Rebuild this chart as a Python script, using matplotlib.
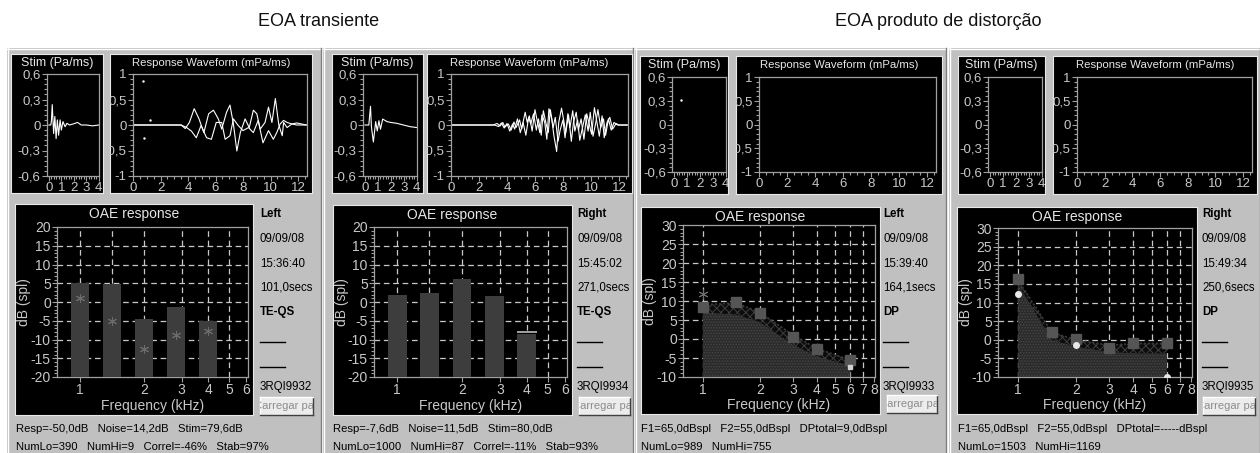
# -*- coding: utf-8 -*-
# Painel de EOA: transiente (TE) e produto de distorção (DP), orelha esquerda/direita
import matplotlib; matplotlib.use("Agg")
import matplotlib.pyplot as plt
import numpy as np
from matplotlib.patches import Rectangle
from matplotlib.ticker import MultipleLocator, FixedLocator, NullLocator

W, H = 1260, 453
plt.rcParams.update({"font.family": ["Liberation Sans", "DejaVu Sans"],
                     "hatch.linewidth": 0.7})
CINZA = "#c0c0c0"; TXT = "#c8c8c8"; GRADE = "#c8c8c8"; MOLD = "#a0a0a0"

# ---------------- dados ----------------
titulos = ["EOA transiente", "EOA produto de distorção"]

# estímulo (ms, Pa)
stim1_t = [0.0, 0.15, 0.2, 0.27, 0.38, 0.48, 0.58, 0.68, 0.78, 0.9, 1.0, 1.13, 1.3, 1.45, 1.65, 1.9, 2.3, 2.6, 3.0, 3.5, 4.0]
stim1_v = [0.0, 0.0, 0.04, 0.24, -0.1, 0.1, -0.16, 0.06, -0.12, 0.06, -0.06, 0.04, -0.02, 0.02, 0.0, 0.01, 0.03, 0.0, 0.0, -0.01, 0.0]
stim2_t = [0.0, 0.3, 0.43, 0.5, 0.65, 0.83, 0.95, 1.08, 1.2, 1.37, 1.7, 2.0, 2.45, 2.97, 3.5, 4.0]
stim2_v = [0.0, 0.0, 0.22, -0.02, -0.2, 0.04, -0.07, 0.05, -0.05, 0.07, 0.04, 0.03, 0.02, 0.0, -0.02, -0.03]
stim3_pt = (0.55, 0.31)

# resposta (ms, mPa) - dois buffers
resp1_t_a = [0, 3.5, 3.8, 4.1, 4.45, 4.8, 5.15, 5.5, 5.85, 6.2, 6.45, 6.8, 7.05, 7.3, 7.55, 7.8, 8.15, 8.45, 8.75, 9.0, 9.25, 9.6, 9.85, 10.1, 10.35, 10.6, 10.85, 10.95, 11.2, 11.55, 11.9, 12.6]
resp1_v_a = [0, 0, -0.07, 0.05, 0.32, 0.12, -0.15, 0.22, 0.29, 0.12, -0.08, 0.25, 0.39, 0.02, -0.51, -0.15, 0.12, -0.05, 0.29, 0.22, -0.08, 0.05, 0.35, 0.05, 0.52, 0.0, -0.21, 0.05, -0.05, 0.02, 0.0, 0.0]
resp1_t_b = [0, 3.5, 3.9, 4.25, 4.6, 4.95, 5.35, 5.7, 6.05, 6.45, 6.7, 7.05, 7.3, 7.65, 8.0, 8.4, 8.75, 9.1, 9.45, 9.85, 10.2, 10.45, 10.7, 10.95, 11.2, 11.55, 11.9, 12.6]
resp1_v_b = [0, 0, -0.05, -0.12, -0.25, -0.01, -0.25, -0.28, 0.05, 0.05, -0.28, -0.21, 0.12, -0.01, -0.11, -0.05, -0.15, 0.09, -0.35, -0.11, -0.28, -0.15, 0.02, 0.09, 0.05, 0.02, 0.04, 0.0]
resp1_pts_t = [0.7, 0.8, 1.25]
resp1_pts_v = [0.87, -0.25, 0.1]

resp2_t_a = [0, 3.0, 3.3, 3.5, 3.7, 3.85, 4.1, 4.3, 4.5, 4.65, 4.9, 5.05, 5.3, 5.45, 5.6, 5.8, 6.0, 6.15, 6.35, 6.5,
             6.7, 6.85, 7.0, 7.2, 7.35, 7.55, 7.7, 7.9, 8.05, 8.2, 8.4, 8.6, 8.75, 8.95, 9.1, 9.3, 9.5, 9.7, 9.85, 10.05,
             10.25, 10.4, 10.6, 10.8, 10.95, 11.15, 11.35, 11.55, 11.8, 12.0, 12.6]
resp2_v_a = [0, 0, 0.03, -0.02, 0.05, -0.04, 0.02, -0.1, 0.06, -0.05, 0.1, -0.08, 0.25, 0.05, 0.18, -0.12, 0.3, 0.1, -0.15, 0.2,
             0.05, -0.28, 0.32, 0.12, -0.2, -0.52, 0.05, 0.33, 0.1, -0.15, 0.2, -0.32, 0.05, 0.25, -0.1, 0.12, -0.28, 0.22, 0.05, -0.18,
             0.34, 0.1, -0.22, 0.18, -0.25, 0.05, 0.15, -0.08, 0.03, 0.0, 0.0]
resp2_t_b = [0, 3.1, 3.4, 3.6, 3.8, 4.0, 4.2, 4.4, 4.55, 4.75, 4.95, 5.15, 5.35, 5.55, 5.7, 5.9, 6.1, 6.25, 6.45, 6.6,
             6.8, 6.95, 7.1, 7.3, 7.45, 7.65, 7.8, 8.0, 8.15, 8.35, 8.5, 8.7, 8.85, 9.05, 9.2, 9.4, 9.6, 9.8, 9.95, 10.15,
             10.35, 10.5, 10.7, 10.9, 11.05, 11.25, 11.45, 11.65, 11.9, 12.6]
resp2_v_b = [0, 0, -0.03, 0.04, -0.06, 0.03, -0.12, 0.02, -0.08, 0.12, -0.15, 0.05, -0.2, 0.15, 0.02, 0.22, -0.1, 0.12, -0.2, 0.28,
             0.02, -0.15, 0.3, -0.05, 0.15, -0.32, -0.1, 0.1, -0.25, 0.22, -0.05, 0.28, -0.12, 0.1, -0.3, -0.05, 0.2, -0.12, 0.25, -0.22,
             0.05, 0.3, -0.05, 0.12, -0.2, 0.12, -0.1, 0.05, 0.0, 0.0]

# TE: bandas (kHz) e níveis (dB spl)
te_freq = [1.0, 1.41, 2.0, 2.83, 4.0]
te_resp_esq = [5.2, 4.7, -4.5, -1.3, -5.0]
te_ruido_esq = [1.0, -5.1, -12.6, -8.7, -7.8]
te_resp_dir = [2.0, 2.3, 6.1, 1.7, -8.4]
te_ruido_dir = [np.nan, np.nan, np.nan, np.nan, -7.9]

# DP: f2 (kHz), nível DP, piso de ruído e limite superior da faixa
dp_freq = [1.0, 1.5, 2.0, 3.0, 4.0, 6.0]
dp_esq = [8.5, 9.8, 6.9, 0.4, -2.5, -5.6]
piso_esq = [7.0, 6.5, 4.5, -1.5, -4.5, -7.0]
faixa_esq = [9.0, 9.5, 7.0, 1.0, -2.5, -5.5]
dp_dir = [16.2, 2.1, 0.1, -2.1, -1.0, -0.8]
piso_dir = [15.0, 0.0, -1.8, -3.2, -3.6, -3.6]
faixa_dir = [16.0, 2.0, 0.0, -1.5, -1.0, -1.0]
extra_esq_f = [1.0]; extra_esq_v = [11.8]
branco_esq_f = [6.0]; branco_esq_v = [-7.3]
branco_dir_f = [1.0, 2.0, 6.0]; branco_dir_v = [12.2, -1.5, -10.0]

info = [["Left", "09/09/08", "15:36:40", "101,0secs", "TE-QS", "3RQI9932"],
        ["Right", "09/09/08", "15:45:02", "271,0secs", "TE-QS", "3RQI9934"],
        ["Left", "09/09/08", "15:39:40", "164,1secs", "DP", "3RQI9933"],
        ["Right", "09/09/08", "15:49:34", "250,6secs", "DP", "3RQI9935"]]
rodape = [["Resp=-50,0dB   Noise=14,2dB   Stim=79,6dB", "NumLo=390   NumHi=9   Correl=-46%   Stab=97%"],
          ["Resp=-7,6dB   Noise=11,5dB   Stim=80,0dB", "NumLo=1000   NumHi=87   Correl=-11%   Stab=93%"],
          ["F1=65,0dBspl   F2=55,0dBspl   DPtotal=9,0dBspl", "NumLo=989   NumHi=755"],
          ["F1=65,0dBspl   F2=55,0dBspl   DPtotal=-----dBspl", "NumLo=1503   NumHi=1169"]]

# ---------------- geometria (px) ----------------
geo = [
    dict(painel=(7, 48, 321), sb=(11, 54, 103, 193), sa=(47, 74, 99, 176), rb=(110, 54, 312, 193), ra=(133, 74, 307, 176),
         ob=(15, 204, 253, 415), oa=(57, 227, 248, 377), ix=260, bt=(260, 397, 313, 415), tx=16),
    dict(painel=(323, 48, 633), sb=(332, 54, 423, 193), sa=(363, 74, 417, 176), rb=(427, 54, 632, 193), ra=(451, 74, 628, 176),
         ob=(333, 205, 572, 415), oa=(374, 227, 567, 377), ix=577, bt=(579, 397, 630, 415), tx=333),
    dict(painel=(635, 48, 946), sb=(640, 56, 728, 194), sa=(672, 77, 726, 172), rb=(736, 56, 942, 194), ra=(759, 77, 936, 172),
         ob=(641, 207, 880, 414), oa=(683, 225, 875, 377), ix=883, bt=(887, 395, 937, 413), tx=641),
    dict(painel=(949, 48, 1260), sb=(958, 56, 1045, 194), sa=(988, 77, 1042, 172), rb=(1053, 56, 1257, 194), ra=(1077, 77, 1252, 172),
         ob=(957, 207, 1197, 414), oa=(998, 228, 1192, 377), ix=1202, bt=(1203, 397, 1255, 415), tx=958),
]

fig = plt.figure(figsize=(W / 100, H / 100), dpi=100, facecolor="white")

def ax_px(b, z=1):
    x0, y0, x1, y1 = b
    return fig.add_axes([x0 / W, 1 - y1 / H, (x1 - x0) / W, (y1 - y0) / H], zorder=z)

fundo = fig.add_axes([0, 0, 1, 1], zorder=-5)
fundo.set_xlim(0, W); fundo.set_ylim(H, 0); fundo.axis("off")
topo = fig.add_axes([0, 0, 1, 1], zorder=10)
topo.set_xlim(0, W); topo.set_ylim(H, 0); topo.axis("off"); topo.patch.set_alpha(0)

topo.text(319, 21, titulos[0], ha="center", va="center", fontsize=13, color="#111111")
topo.text(938, 21, titulos[1], ha="center", va="center", fontsize=13, color="#111111")

def caixa(b):
    a = ax_px(b, 1)
    a.set_facecolor("black"); a.set_xticks([]); a.set_yticks([])
    for s in a.spines.values():
        s.set_color("#e8e8e8"); s.set_linewidth(0.8)
    return a

def eixo(b, cx):
    a = ax_px(b, 2)
    a.patch.set_alpha(0)
    for s in a.spines.values():
        s.set_color(MOLD); s.set_linewidth(0.9)
    a.tick_params(which="both", direction="out", color=MOLD, labelcolor=TXT, pad=1)
    a.tick_params(which="major", length=3.5, width=0.8)
    a.tick_params(which="minor", length=2, width=0.8)
    return a

def recorta(a, cx):
    for lab in a.get_xticklabels() + a.get_yticklabels():
        lab.set_clip_path(cx.patch)

def estilo_onda(a, cx, xlim, xmaj, xmin, ylim, yticks, ylabs, ymin):
    a.set_xlim(*xlim); a.set_ylim(*ylim)
    a.xaxis.set_major_locator(FixedLocator(xmaj)); a.xaxis.set_minor_locator(MultipleLocator(xmin))
    a.set_xticklabels([str(v) for v in xmaj], fontsize=9.5)
    a.set_yticks(yticks); a.set_yticklabels(ylabs, fontsize=9.5)
    a.yaxis.set_minor_locator(MultipleLocator(ymin))
    recorta(a, cx)

def grade(a, xs, ys):
    for x in xs:
        a.axvline(x, color=GRADE, lw=0.9, ls=(0, (4.5, 3)), zorder=1)
    for y in ys:
        a.axhline(y, color=GRADE, lw=0.9, ls=(0, (4.5, 3)), zorder=1)

for i, g in enumerate(geo):
    x0, y0, x1 = g["painel"]
    fundo.add_patch(Rectangle((x0, y0), x1 - x0, H - y0, facecolor=CINZA, edgecolor="none"))
    fundo.plot([x0 + 0.5, x0 + 0.5], [y0, H], color="white", lw=1)
    fundo.plot([x0, x1], [y0 + 0.5, y0 + 0.5], color="white", lw=1)
    fundo.plot([x1 - 0.5, x1 - 0.5], [y0, H], color="#808080", lw=1)

    # estímulo
    cs = caixa(g["sb"]); s = eixo(g["sa"], cs)
    estilo_onda(s, cs, (-0.15, 4.02), [0, 1, 2, 3, 4], 0.2, (-0.6, 0.6),
                [-0.6, -0.3, 0, 0.3, 0.6], ["-0,6", "-0,3", "0", "0,3", "0,6"], 0.06)
    topo.text((g["sb"][0] + g["sb"][2]) / 2, g["sb"][1] + 9, "Stim (Pa/ms)", ha="center", va="center",
              fontsize=9, color="#e6e6e6")
    # resposta
    cr = caixa(g["rb"]); r = eixo(g["ra"], cr)
    estilo_onda(r, cr, (0, 12.65), [0, 2, 4, 6, 8, 10, 12], 0.5, (-1, 1),
                [-1, -0.5, 0, 0.5, 1], ["-1", "-0,5", "0", "0,5", "1"], 0.1)
    topo.text((g["rb"][0] + g["rb"][2]) / 2, g["rb"][1] + 9, "Response Waveform (mPa/ms)", ha="center",
              va="center", fontsize=8.2, color="#e6e6e6")

    if i == 0:
        s.plot(stim1_t, stim1_v, color="white", lw=0.8)
        r.plot(resp1_t_a, resp1_v_a, color="white", lw=0.8)
        r.plot(resp1_t_b, resp1_v_b, color="white", lw=0.8)
        r.plot(resp1_pts_t, resp1_pts_v, ".", color="white", ms=1.5)
    elif i == 1:
        s.plot(stim2_t, stim2_v, color="white", lw=0.8)
        r.plot(resp2_t_a, resp2_v_a, color="white", lw=0.8)
        r.plot(resp2_t_b, resp2_v_b, color="white", lw=0.8)
    elif i == 2:
        s.plot([stim3_pt[0]], [stim3_pt[1]], ".", color="white", ms=1.5)

    # resposta OAE
    co = caixa(g["ob"]); o = eixo(g["oa"], co)
    o.set_xscale("log")
    o.xaxis.set_minor_locator(NullLocator())
    o.yaxis.set_minor_locator(MultipleLocator(1))
    o.tick_params(axis="both", labelsize=10)
    if i < 2:
        o.set_xlim(0.78, 6.15); o.set_ylim(-20, 20)
        o.set_xticks([1, 2, 3, 4, 5, 6]); o.set_xticklabels(["1", "2", "3", "4", "5", "6"])
        o.set_yticks(range(-20, 21, 5)); o.set_yticklabels([str(v) for v in range(-20, 21, 5)])
        grade(o, [1, 1.41, 2, 3, 4, 5], [-15, -10, -5, 0, 5, 10, 15])
        resp = te_resp_esq if i == 0 else te_resp_dir
        ruido = te_ruido_esq if i == 0 else te_ruido_dir
        esq = [f / 1.105 for f in te_freq]
        larg = [f * 1.105 - f / 1.105 for f in te_freq]
        o.bar(esq, [v + 20 for v in resp], width=larg, bottom=-20, align="edge", color="#3d3d3d", zorder=3)
        if i == 0:
            o.plot(te_freq, ruido, ls="none", marker=(6, 2, 0), ms=6.5, mew=0.7, color="#6c6c6c", zorder=4)
        else:
            o.plot(te_freq, ruido, ls="none", marker="_", ms=15, mew=1.2, color="#bdbdbd", zorder=4)
    else:
        o.set_xlim(0.785, 8.1); o.set_ylim(-10, 30)
        o.set_xticks(range(1, 9)); o.set_xticklabels([str(v) for v in range(1, 9)])
        o.set_yticks(range(-10, 31, 5)); o.set_yticklabels([str(v) for v in range(-10, 31, 5)])
        grade(o, [1, 2, 3, 4, 5, 6, 7], [-5, 0, 5, 10, 15, 20, 25])
        dp = dp_esq if i == 2 else dp_dir
        piso = piso_esq if i == 2 else piso_dir
        faixa = faixa_esq if i == 2 else faixa_dir
        o.fill_between(dp_freq, -10, piso, facecolor="#2b2b2b", hatch="......", edgecolor="#474747", lw=0, zorder=2)
        o.fill_between(dp_freq, piso, faixa, facecolor="#0c0c0c", hatch="xxxx", edgecolor="#3e3e3e", lw=0, zorder=2)
        o.plot(dp_freq, faixa, color="#3a3a3a", lw=1.2, ls=(0, (1.2, 1.2)), zorder=2)
        o.plot(dp_freq, dp, "s", color="#555555", ms=6.5, zorder=4)
        if i == 2:
            o.plot(extra_esq_f, extra_esq_v, ls="none", marker=(6, 2, 0), ms=7, mew=0.7, color="#6c6c6c", zorder=4)
            o.plot(branco_esq_f, branco_esq_v, "s", color="#d0d0d0", ms=3, zorder=5)
        else:
            o.plot(branco_dir_f, branco_dir_v, "o", color="#e8e8e8", ms=4, zorder=5)
    recorta(o, co)

    bx0, by0, bx1, by1 = g["ob"]
    ax0, ay0, ax1, ay1 = g["oa"]
    topo.text((bx0 + bx1) / 2, by0 + 10, "OAE response", ha="center", va="center", fontsize=10, color="#e6e6e6")
    topo.text((ax0 + ax1) / 2, by1 - 9, "Frequency (kHz)", ha="center", va="center", fontsize=10, color=TXT)
    topo.text(bx0 + 9, (ay0 + ay1) / 2, "dB (spl)", ha="center", va="center", rotation=90, fontsize=10, color=TXT)

    # texto lateral
    ix = g["ix"]
    ys = [214, 239, 264, 288, 312, 387]
    for k, (t, y) in enumerate(zip(info[i], ys)):
        topo.text(ix, y, t, ha="left", va="center", fontsize=8.3, color="black",
                  fontweight="bold" if k in (0, 4) else "normal")
    for y in (342, 367):
        topo.plot([ix, ix + 25], [y, y], color="black", lw=1)

    # botão
    b = ax_px(g["bt"], 3)
    b.set_xticks([]); b.set_yticks([]); b.set_facecolor("#ececec")
    for sp, c in zip(["left", "top", "right", "bottom"], ["white", "white", "#404040", "#404040"]):
        b.spines[sp].set_color(c); b.spines[sp].set_linewidth(1)
    b.text(0.5, 0.5, "Carregar pac", ha="center", va="center", fontsize=8, color="#8c8c8c",
           transform=b.transAxes, clip_on=True)

    # rodapé
    tx = g["tx"]
    topo.text(tx, 429, rodape[i][0], ha="left", va="center", fontsize=8.1, color="black")
    topo.text(tx, 447, rodape[i][1], ha="left", va="center", fontsize=8.1, color="black")

fig.savefig("out.png", dpi=100, facecolor="white")
